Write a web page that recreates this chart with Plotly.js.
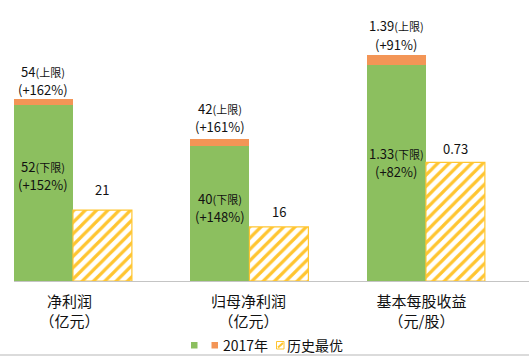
<!DOCTYPE html>
<html><head><meta charset="utf-8">
<script src="https://cdn.plot.ly/plotly-3.0.1.min.js"></script>
<style>html,body{margin:0;padding:0;background:#fff;}#chart{width:529px;height:358px;}</style>
</head><body><div id="chart"></div>
<script>
var categories = ['净利润<br>（亿元）', '归母净利润<br>（亿元）', '基本每股收益<br>（元/股）'];
var lower2017 = [52, 40, 1.33];
var upper2017 = [54, 42, 1.39];
var best = [21, 16, 0.73];
var lowerPct = ['+152%', '+148%', '+82%'];
var upperPct = ['+162%', '+161%', '+91%'];
var bestLabels = ['21', '16', '0.73'];
var lowerLabels = ['52', '40', '1.33'];
var upperLabels = ['54', '42', '1.39'];
var legendNames = ['', '2017年', '历史最优'];

var GREEN = '#8cbf5f', ORANGE = '#f39556', GOLD = '#ffc530';
var BW = 0.334;
var font = 'Noto Sans CJK SC, sans-serif';
var TXT = '#111111';

// groups 0,1 on y (亿元), group 2 on y2 (元/股)
var idxA = [0, 1], idxB = [2];
function pick(arr, idx) { return idx.map(function (i) { return arr[i]; }); }

var traces = [];
[[idxA, 'y'], [idxB, 'y2']].forEach(function (g) {
  var idx = g[0], ax = g[1];
  traces.push({
    type: 'bar', x: idx, y: pick(lower2017, idx), yaxis: ax,
    offset: -BW, width: BW, marker: { color: GREEN, line: { width: 0 } },
    name: legendNames[0], hoverinfo: 'none'
  });
  traces.push({
    type: 'bar', x: idx,
    y: idx.map(function (i) { return upper2017[i] - lower2017[i]; }),
    base: pick(lower2017, idx), yaxis: ax,
    offset: -BW, width: BW, marker: { color: ORANGE, line: { width: 0 } },
    name: legendNames[1], hoverinfo: 'none'
  });
  traces.push({
    type: 'bar', x: idx, y: pick(best, idx), yaxis: ax,
    offset: 0, width: BW,
    marker: { color: 'white', line: { color: GOLD, width: 1.2 },
      pattern: { shape: '/', fgcolor: GOLD, bgcolor: 'white', size: 8, solidity: 0.4 } },
    name: legendNames[2], hoverinfo: 'none'
  });
});

var annotations = [];
var topShift = [9.5, 12.3, 11.3];   // px above bar top to centre of 2nd line
var LINE = 18;
var bestShift = [9, 4, 2];
var innerFrac = [0.548, 0.476, 0.506];
var lblFont = { family: font, size: 13, color: TXT };
function ann(o) {
  o.showarrow = false; o.font = o.font || lblFont; o.borderpad = 0;
  annotations.push(o);
}
for (var i = 0; i < 3; i++) {
  var yr = i < 2 ? 'y' : 'y2';
  var cx = i - BW / 2;
  ann({ x: cx, y: upper2017[i], xref: 'x', yref: yr, yanchor: 'middle', yshift: topShift[i] + LINE,
    text: upperLabels[i] + '<span style="font-size:11px">(上限)</span>' });
  ann({ x: cx, y: upper2017[i], xref: 'x', yref: yr, yanchor: 'middle', yshift: topShift[i],
    text: '(' + upperPct[i] + ')' });
  ann({ x: cx, y: lower2017[i] * innerFrac[i], xref: 'x', yref: yr, yanchor: 'middle', yshift: LINE,
    text: lowerLabels[i] + '<span style="font-size:11px">(下限)</span>' });
  ann({ x: cx, y: lower2017[i] * innerFrac[i], xref: 'x', yref: yr, yanchor: 'middle',
    text: '(' + lowerPct[i] + ')' });
  ann({ x: i + BW / 2, y: best[i], xref: 'x', yref: yr, yanchor: 'bottom', yshift: bestShift[i] + 1,
    text: bestLabels[i] });
}

// hand-drawn legend (compact spacing like the original)
var W = 515, H = 271, L = 14, B = 281;
function px(x) { return (x - L) / W; }
function py(y) { return (B - y) / H; }
var legY0 = 342, legY1 = 348.5;
var shapes = [
  { type: 'line', xref: 'paper', yref: 'paper', x0: px(0), x1: 1, y0: py(355), y1: py(355),
    line: { color: '#cfcfcf', width: 1.5 } },
  { type: 'rect', xref: 'paper', yref: 'paper', x0: px(191), x1: px(197.5), y0: py(legY1), y1: py(legY0),
    fillcolor: GREEN, line: { width: 0 } },
  { type: 'rect', xref: 'paper', yref: 'paper', x0: px(211.5), x1: px(218), y0: py(legY1), y1: py(legY0),
    fillcolor: ORANGE, line: { width: 0 } },
  { type: 'rect', xref: 'paper', yref: 'paper', x0: px(276.5), x1: px(284), y0: py(349), y1: py(341.5),
    fillcolor: 'white', line: { color: GOLD, width: 1 } },
  { type: 'line', xref: 'paper', yref: 'paper', x0: px(278), x1: px(283), y0: py(347.5), y1: py(343),
    line: { color: GOLD, width: 2 } }
];
ann({ xref: 'paper', yref: 'paper', x: px(221.5), y: py(345), xanchor: 'left', yanchor: 'middle',
  text: legendNames[1], font: { family: font, size: 14, color: TXT } });
ann({ xref: 'paper', yref: 'paper', x: px(286), y: py(345), xanchor: 'left', yanchor: 'middle',
  text: legendNames[2], font: { family: font, size: 14, color: TXT } });

var layout = {
  width: 529, height: 358,
  margin: { l: 14, r: 0, t: 10, b: 77 },
  paper_bgcolor: 'white', plot_bgcolor: 'white',
  barmode: 'overlay', bargap: 0,
  font: { family: font, size: 13, color: TXT },
  showlegend: false,
  xaxis: {
    range: [-BW, 2.584], tickvals: [-0.02, 0.995, 1.975], ticktext: categories,
    showline: true, linecolor: '#c4c4c4', linewidth: 1, showgrid: false, zeroline: false,
    ticks: '', ticklabelstandoff: 7, tickfont: { family: font, size: 15, color: TXT }, fixedrange: true
  },
  yaxis: { range: [0, 80.2], visible: false, fixedrange: true },
  yaxis2: { range: [0, 1.669], overlaying: 'y', visible: false, fixedrange: true },
  annotations: annotations,
  shapes: shapes
};

Plotly.newPlot('chart', traces, layout, { displayModeBar: false, staticPlot: true });
</script></body></html>
